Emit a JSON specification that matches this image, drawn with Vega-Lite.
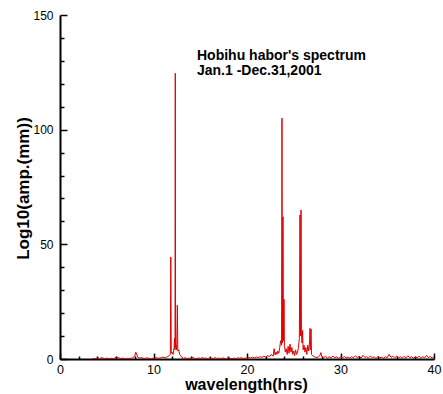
{
  "$schema": "https://vega.github.io/schema/vega-lite/v6.json",
  "autosize": "none",
  "width": 374,
  "height": 344,
  "padding": {"left": 60, "top": 15, "right": 9, "bottom": 35},
  "background": "white",
  "config": {
    "view": {"stroke": null},
    "font": "Liberation Sans",
    "axis": {"grid": false}
  },
  "datasets": {
    "spec": [
      {"x":3.5,"y":0.3},{"x":3.75,"y":0.1},{"x":4.0,"y":0.5},{"x":4.25,"y":0.2},{"x":4.5,"y":0.6},{"x":4.75,"y":0.1},{"x":5.0,"y":0.4},{"x":5.25,"y":0.2},{"x":5.5,"y":0.3},{"x":5.75,"y":0.1},{"x":6.0,"y":0.8},{"x":6.25,"y":0.6},{"x":6.5,"y":0.2},{"x":6.75,"y":0.4},{"x":7.0,"y":0.1},{"x":7.25,"y":0.3},{"x":7.5,"y":0.2},{"x":7.75,"y":0.5},{"x":8.0,"y":1.2},{"x":8.1,"y":3.0},{"x":8.2,"y":2.2},{"x":8.3,"y":0.8},{"x":8.5,"y":0.4},{"x":8.75,"y":0.6},{"x":9.0,"y":0.2},{"x":9.25,"y":0.5},{"x":9.5,"y":0.3},{"x":9.75,"y":0.1},{"x":10.0,"y":0.4},{"x":10.25,"y":0.6},{"x":10.5,"y":0.3},{"x":10.75,"y":0.5},{"x":11.0,"y":0.8},{"x":11.25,"y":0.6},{"x":11.5,"y":1.0},{"x":11.7,"y":1.5},{"x":11.8,"y":2.0},{"x":11.85,"y":44.5},{"x":11.9,"y":2.5},{"x":12.0,"y":3.0},{"x":12.1,"y":2.0},{"x":12.2,"y":5.0},{"x":12.25,"y":9.0},{"x":12.3,"y":4.0},{"x":12.33,"y":124.6},{"x":12.36,"y":5.0},{"x":12.42,"y":6.0},{"x":12.48,"y":4.0},{"x":12.55,"y":23.5},{"x":12.6,"y":3.5},{"x":12.7,"y":4.0},{"x":12.8,"y":2.0},{"x":12.9,"y":1.5},{"x":13.0,"y":0.8},
      {"x":13.2,"y":0.3},{"x":13.4,"y":0.6},{"x":13.6,"y":0.1},{"x":13.8,"y":0.4},{"x":14.0,"y":0.2},{"x":14.2,"y":0.7},{"x":14.4,"y":0.3},{"x":14.6,"y":0.1},{"x":14.8,"y":0.5},{"x":15.0,"y":0.2},{"x":15.2,"y":0.6},{"x":15.4,"y":0.3},{"x":15.6,"y":0.4},{"x":15.8,"y":0.1},{"x":16.0,"y":0.5},{"x":16.2,"y":0.2},{"x":16.4,"y":0.3},{"x":16.6,"y":0.6},{"x":16.8,"y":0.2},{"x":17.0,"y":0.4},{"x":17.2,"y":0.1},{"x":17.4,"y":0.5},{"x":17.6,"y":0.3},{"x":17.8,"y":0.2},{"x":18.0,"y":0.6},{"x":18.2,"y":0.3},{"x":18.4,"y":0.1},{"x":18.6,"y":0.4},{"x":18.8,"y":0.2},{"x":19.0,"y":0.5},{"x":19.2,"y":0.3},{"x":19.4,"y":0.6},{"x":19.6,"y":0.2},{"x":19.8,"y":0.4},{"x":20.0,"y":0.3},{"x":20.2,"y":0.7},{"x":20.4,"y":0.4},{"x":20.6,"y":0.8},{"x":20.8,"y":0.5},{"x":21.0,"y":0.9},{"x":21.2,"y":0.6},{"x":21.4,"y":1.0},{"x":21.6,"y":0.7},{"x":21.8,"y":1.2},{"x":22.0,"y":0.8},{"x":22.2,"y":1.5},{"x":22.4,"y":1.0},{"x":22.6,"y":2.0},{"x":22.8,"y":1.2},{"x":22.9,"y":4.5},{"x":23.0,"y":1.8},{"x":23.1,"y":3.0},{"x":23.2,"y":2.0},{"x":23.3,"y":3.5},{"x":23.4,"y":2.5},{"x":23.5,"y":5.0},{"x":23.6,"y":8.0},{"x":23.7,"y":6.0},{"x":23.74,"y":105},{"x":23.78,"y":7},{"x":23.85,"y":62},{"x":23.9,"y":8},{"x":23.96,"y":26},{"x":24.0,"y":6},{"x":24.1,"y":3},{"x":24.2,"y":4.5},{"x":24.3,"y":2.0},{"x":24.4,"y":5.5},{"x":24.5,"y":2.5},{"x":24.6,"y":6.5},{"x":24.7,"y":3.0},{"x":24.8,"y":5.0},{"x":24.9,"y":2.0},{"x":25.0,"y":3.5},{"x":25.1,"y":1.5},{"x":25.2,"y":4.0},{"x":25.3,"y":2.0},{"x":25.4,"y":3.0},{"x":25.5,"y":5.0},{"x":25.6,"y":9.0},{"x":25.67,"y":62.8},{"x":25.72,"y":10},{"x":25.78,"y":65},{"x":25.82,"y":12},{"x":25.88,"y":7},{"x":25.95,"y":12.5},{"x":26.0,"y":4},{"x":26.1,"y":6},{"x":26.2,"y":3},{"x":26.3,"y":5},{"x":26.4,"y":2},{"x":26.5,"y":6},{"x":26.6,"y":3.5},{"x":26.7,"y":8},{"x":26.74,"y":13.4},{"x":26.78,"y":4},{"x":26.85,"y":13},{"x":26.9,"y":2},{"x":27.0,"y":1.5},{"x":27.2,"y":1.0},{"x":27.4,"y":0.6},{"x":27.6,"y":0.8},{"x":27.8,"y":1.5},{"x":27.9,"y":2.8},{"x":28.0,"y":1.0},
      {"x":28.2,"y":0.6},{"x":28.4,"y":1.2},{"x":28.6,"y":0.4},{"x":28.8,"y":1.0},{"x":29.0,"y":0.5},{"x":29.2,"y":1.3},{"x":29.4,"y":0.6},{"x":29.6,"y":0.9},{"x":29.8,"y":0.3},{"x":30.0,"y":0.8},{"x":30.2,"y":0.4},{"x":30.4,"y":1.1},{"x":30.6,"y":0.5},{"x":30.8,"y":0.9},{"x":31.0,"y":0.3},{"x":31.2,"y":1.0},{"x":31.4,"y":0.5},{"x":31.6,"y":1.4},{"x":31.8,"y":0.6},{"x":32.0,"y":1.2},{"x":32.2,"y":0.4},{"x":32.4,"y":1.6},{"x":32.6,"y":0.7},{"x":32.8,"y":1.0},{"x":33.0,"y":0.4},{"x":33.2,"y":1.3},{"x":33.4,"y":0.6},{"x":33.6,"y":0.9},{"x":33.8,"y":0.3},{"x":34.0,"y":1.1},{"x":34.2,"y":0.5},{"x":34.4,"y":0.8},{"x":34.6,"y":0.3},{"x":34.8,"y":1.0},{"x":35.0,"y":0.6},{"x":35.2,"y":2.0},{"x":35.4,"y":0.7},{"x":35.6,"y":1.2},{"x":35.8,"y":0.4},{"x":36.0,"y":1.3},{"x":36.2,"y":0.5},{"x":36.4,"y":1.0},{"x":36.6,"y":0.4},{"x":36.8,"y":1.1},{"x":37.0,"y":0.5},{"x":37.2,"y":1.4},{"x":37.4,"y":0.6},{"x":37.6,"y":1.0},{"x":37.8,"y":0.3},{"x":38.0,"y":0.9},{"x":38.2,"y":0.5},{"x":38.4,"y":1.2},{"x":38.6,"y":0.4},{"x":38.8,"y":1.0},{"x":39.0,"y":0.5},{"x":39.2,"y":1.6},{"x":39.4,"y":0.6},{"x":39.6,"y":1.1},{"x":39.8,"y":0.4},{"x":40.0,"y":0.9}
    ],
    "notes": [
      {"x":14.65,"y":132.3,"text":"Hobihu habor's spectrum"},
      {"x":14.65,"y":125.4,"text":"Jan.1 -Dec.31,2001"}
    ]
  },
  "resolve": {"axis": {"x": "independent", "y": "independent"}},
  "layer": [
    {
      "data": {"name": "spec"},
      "mark": {"type": "line", "color": "#e00000", "strokeWidth": 1, "clip": true, "interpolate": "linear"},
      "encoding": {
        "x": {
          "field": "x", "type": "quantitative",
          "scale": {"domain": [0, 40], "nice": false, "zero": false},
          "axis": {
            "orient": "bottom",
            "title": "wavelength(hrs)",
            "titleFont": "Liberation Sans", "titleFontSize": 16, "titleFontWeight": "bold", "titleColor": "#000",
            "titleX": 186, "titleY": 25, "titleBaseline": "middle",
            "values": [0,10,20,30,40],
            "labelFontSize": 12.5, "labelColor": "#000", "labelFlush": false, "labelOverlap": false, "labelBound": false,
            "labelFont": "Liberation Sans",
            "tickSize": -6,
            "tickColor": "#000", "tickWidth": 1.5,
            "labelPadding": 10,
            "domainColor": "#000", "domainWidth": 2
          }
        },
        "y": {
          "field": "y", "type": "quantitative",
          "scale": {"domain": [0, 150], "nice": false},
          "axis": {
            "orient": "left",
            "title": "Log10(amp.(mm))",
            "titleFont": "Liberation Sans", "titleFontSize": 17, "titleFontWeight": "bold", "titleColor": "#000",
            "titleX": -37, "titleY": 173, "titleBaseline": "middle", "titleAngle": -90,
            "values": [0,50,100,150],
            "labelFontSize": 12, "labelColor": "#000", "labelFlush": false, "labelOverlap": false, "labelBound": false,
            "labelFont": "Liberation Sans",
            "tickSize": -7,
            "tickColor": "#000", "tickWidth": 1.5,
            "labelPadding": 14,
            "domainColor": "#000", "domainWidth": 2
          }
        }
      }
    },
    {
      "data": {"name": "notes"},
      "mark": {"type": "text", "align": "left", "baseline": "middle", "font": "Liberation Sans", "fontWeight": "bold", "fontSize": 14, "letterSpacing": 0.5, "color": "#000"},
      "encoding": {
        "x": {"field": "x", "type": "quantitative", "axis": {"orient": "bottom", "values": [2,4,6,8,12,14,16,18,22,24,26,28,32,34,36,38], "labels": false, "domain": false, "title": null, "tickSize": -3, "tickColor": "#000", "tickWidth": 1.5, "grid": false}},
        "y": {"field": "y", "type": "quantitative", "axis": {"orient": "left", "values": [10,20,30,40,60,70,80,90,110,120,130,140], "labels": false, "domain": false, "title": null, "tickSize": -4, "tickColor": "#000", "tickWidth": 1.5, "grid": false}},
        "text": {"field": "text", "type": "nominal"}
      }
    }
  ]
}
